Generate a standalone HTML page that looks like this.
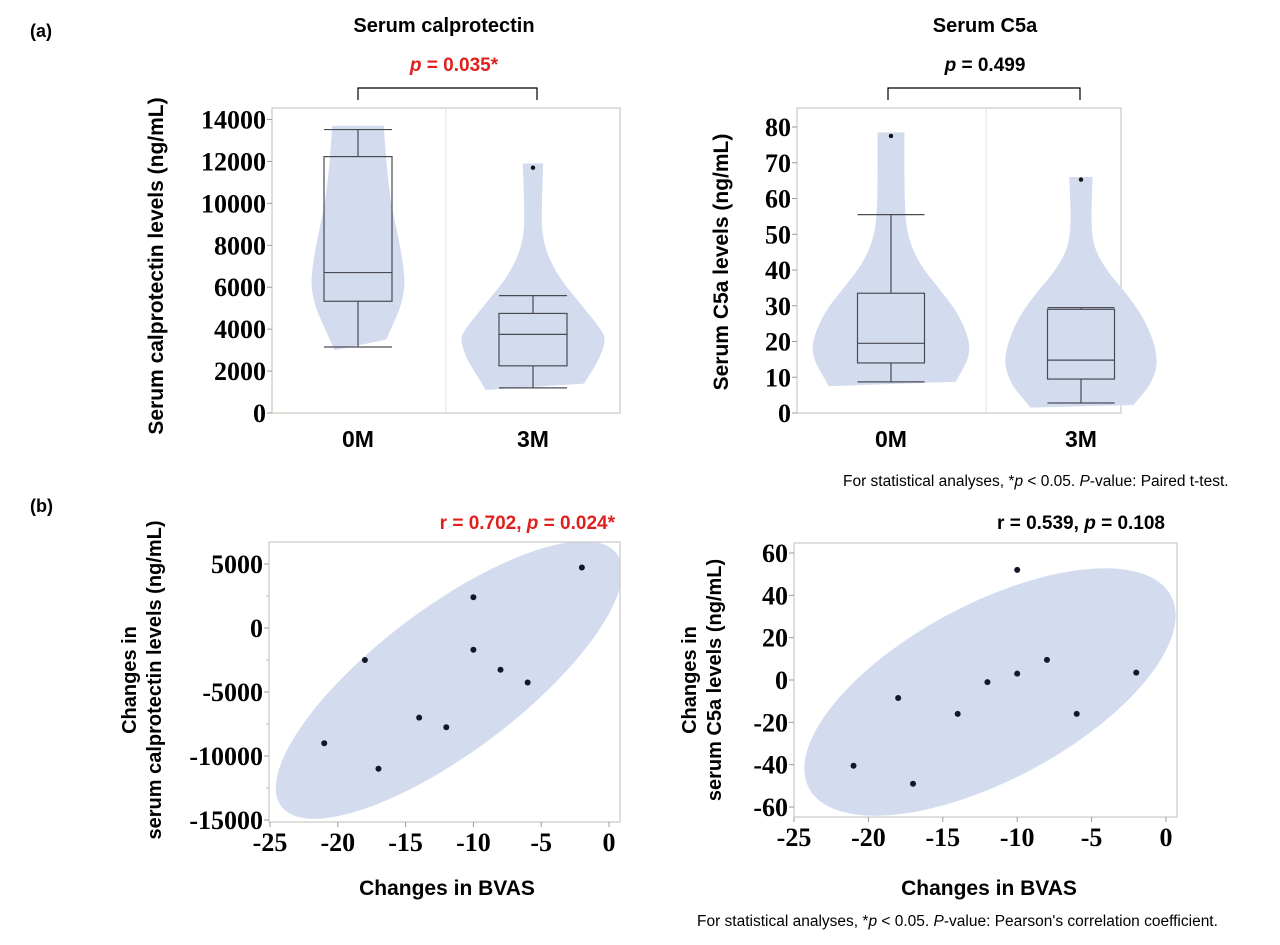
<!DOCTYPE html>
<html><head><meta charset="utf-8"><style>
html,body{margin:0;padding:0;background:#fff;}
svg{display:block;}
.ar{font-family:"Liberation Sans",Arial,sans-serif;font-weight:bold;}
.tm{font-family:"Liberation Serif","Times New Roman",serif;font-weight:bold;font-size:26px;}
</style></head><body>
<svg id="fig" width="1280" height="945" viewBox="0 0 1280 945" xmlns="http://www.w3.org/2000/svg">
<text class="ar" x="30" y="37" font-size="18">(a)</text>
<text class="ar" x="444" y="32" font-size="20" text-anchor="middle">Serum calprotectin</text>
<text class="ar" x="454" y="71" font-size="19" text-anchor="middle" fill="#e0201c"><tspan font-style="italic">p</tspan> = 0.035*</text>
<path d="M358,100 V88 H537 V100" fill="none" stroke="#000" stroke-width="1.2"/>
<text class="ar" x="985" y="32" font-size="20" text-anchor="middle">Serum C5a</text>
<text class="ar" x="985" y="71" font-size="19" text-anchor="middle"><tspan font-style="italic">p</tspan> = 0.499</text>
<path d="M888,100 V88 H1080 V100" fill="none" stroke="#000" stroke-width="1.2"/>
<text class="ar" transform="translate(163,266) rotate(-90)" font-size="21" text-anchor="middle">Serum calprotectin levels (ng/mL)</text>
<text class="ar" transform="translate(728,262) rotate(-90)" font-size="21" text-anchor="middle">Serum C5a levels (ng/mL)</text>
<text font-family="Liberation Sans, Arial, sans-serif" x="843" y="486" font-size="15.5">For statistical analyses, *<tspan font-style="italic">p</tspan> &lt; 0.05. <tspan font-style="italic">P</tspan>-value: Paired t-test.</text>
<text class="ar" x="30" y="512" font-size="18">(b)</text>
<text class="ar" x="615" y="529" font-size="19" text-anchor="end" fill="#e0201c">r = 0.702, <tspan font-style="italic">p</tspan> =  0.024*</text>
<text class="ar" x="1165" y="529" font-size="19" text-anchor="end">r = 0.539, <tspan font-style="italic">p</tspan> =  0.108</text>
<text class="ar" transform="translate(136,680) rotate(-90)" font-size="20" text-anchor="middle">Changes in</text>
<text class="ar" transform="translate(161,680) rotate(-90)" font-size="20" text-anchor="middle">serum calprotectin levels (ng/mL)</text>
<text class="ar" transform="translate(696,680) rotate(-90)" font-size="20" text-anchor="middle">Changes in</text>
<text class="ar" transform="translate(721,680) rotate(-90)" font-size="20" text-anchor="middle">serum C5a levels (ng/mL)</text>
<text class="ar" x="447" y="895" font-size="21" text-anchor="middle">Changes in BVAS</text>
<text class="ar" x="989" y="895" font-size="21" text-anchor="middle">Changes in BVAS</text>
<text font-family="Liberation Sans, Arial, sans-serif" x="697" y="926" font-size="15.5">For statistical analyses, *<tspan font-style="italic">p</tspan> &lt; 0.05. <tspan font-style="italic">P</tspan>-value: Pearson's correlation coefficient.</text>
<defs>
<clipPath id="c1"><rect x="269" y="542" width="351" height="280"/></clipPath>
<clipPath id="c2"><rect x="794" y="543" width="383" height="274"/></clipPath>
</defs>
<g id="layer"></g>
</svg>
<script>
// ---- Data ----
const groups = ["0M", "3M"];
const calBox0 = [3150, 5330, 6700, 12230, 13520];
const calBox3 = [1200, 2250, 3750, 4750, 5600];
const calOutliers0 = [];
const calOutliers3 = [11700];
const calViolinVals0 = [13700, 12000, 10000, 8500, 7000, 6000, 5000, 4000, 3000];
const calViolinDens0 = [0.55, 0.6, 0.7, 0.85, 0.97, 1.0, 0.9, 0.7, 0.5];
const calViolinVals3 = [11900, 10000, 8600, 7500, 6350, 5000, 4000, 3500, 2500, 1700, 1100];
const calViolinDens3 = [0.14, 0.12, 0.12, 0.2, 0.38, 0.7, 0.93, 1.0, 0.9, 0.75, 0.65];
const calTicks = [0, 2000, 4000, 6000, 8000, 10000, 12000, 14000];

const c5aBox0 = [8.7, 14, 19.5, 33.5, 55.5];
const c5aBox3 = [2.8, 9.5, 14.8, 29, 29.5];
const c5aOutliers0 = [77.5];
const c5aOutliers3 = [65.3];
const c5aViolinVals0 = [78.5, 60, 50, 42, 35, 28, 20, 15, 10, 7.5];
const c5aViolinDens0 = [0.17, 0.17, 0.2, 0.35, 0.6, 0.85, 1.0, 0.98, 0.85, 0.79];
const c5aViolinVals3 = [66, 55, 47, 40, 33, 25, 15, 8, 3, 1.5];
const c5aViolinDens3 = [0.15, 0.13, 0.15, 0.32, 0.6, 0.85, 1.0, 0.9, 0.7, 0.65];
const c5aTicks = [0, 10, 20, 30, 40, 50, 60, 70, 80];

const bvas = [-21, -18, -17, -14, -12, -10, -10, -8, -6, -2];
const dCal = [-9000, -2500, -11000, -7000, -7750, 2400, -1700, -3260, -4260, 4730];
const bvas2 = [-21, -18, -17, -14, -12, -10, -10, -8, -6, -2];
const dC5a = [-40.5, -8.5, -49, -16, -1, 52, 3, 9.5, -16, 3.5];
const xTicks = [-25, -20, -15, -10, -5, 0];
const calDTicks = [-15000, -10000, -5000, 0, 5000];
const c5aDTicks = [-60, -40, -20, 0, 20, 40, 60];

const NS = "http://www.w3.org/2000/svg";
const layer = document.getElementById("layer");
function mk(tag, attrs, parent) {
  const e = document.createElementNS(NS, tag);
  for (const k in attrs) e.setAttribute(k, attrs[k]);
  (parent || layer).appendChild(e);
  return e;
}
const lin = (d0, d1, r0, r1) => v => r0 + (v - d0) / (d1 - d0) * (r1 - r0);

function violinPlot(p) {
  const g = mk("g", {});
  
  
  const y = lin(0, p.ymax, 413, p.ytop);
  const fr = mk("rect", {x: p.x0, y: 108, width: p.x1 - p.x0, height: 305, fill: "none", stroke: "#ccc9bd", "stroke-width": 1.2}, g);
  
  
  const dv = mk("line", {x1: p.div, x2: p.div, y1: 108, y2: 413, stroke: "#e2e2e2"}, g);
  
  
  p.ticks.forEach(t => {
    mk("line", {x1: p.x0 - 5, x2: p.x0, y1: y(t), y2: y(t), stroke: "#999"}, g);
    const tx = mk("text", {x: p.x0 - 6, y: y(t) + 9, class: "tm", "text-anchor": "end"}, g);
    tx.textContent = t;
    
    
  });
  p.series.forEach((s, i) => {
    const cx = s.cx;
    let right = [], left = [];
    s.vals.forEach((v, j) => { right.push([cx + s.dens[j] * s.maxw, y(v)]); left.push([cx - s.dens[j] * s.maxw, y(v)]); });
    left.reverse();
    const pts = right.concat(left);
    let d = "M" + pts[0][0] + "," + pts[0][1];
    for (let k = 1; k < pts.length; k++) {
      const a = pts[k - 1], b = pts[k];
      const flat = (k === right.length);
      if (flat) d += " L" + b[0] + "," + b[1];
      else { const mx = (a[0] + b[0]) / 2, my = (a[1] + b[1]) / 2; d += " Q" + a[0] + "," + a[1] + " " + mx + "," + my; }
    }
    d += " L" + pts[pts.length - 1][0] + "," + pts[pts.length - 1][1] + " Z";
    const vp = mk("path", {d: d, fill: "#d3dcee", stroke: "none"}, g);
    
    
    const b = s.box, hw = p.boxw;
    const bx = mk("g", {stroke: "#4a4a55", "stroke-width": 1.2, fill: "none"}, g);
    
    
    mk("rect", {x: cx - hw, y: y(b[3]), width: 2 * hw, height: y(b[1]) - y(b[3])}, bx);
    mk("line", {x1: cx - hw, x2: cx + hw, y1: y(b[2]), y2: y(b[2])}, bx);
    mk("line", {x1: cx, x2: cx, y1: y(b[3]), y2: y(b[4])}, bx);
    mk("line", {x1: cx, x2: cx, y1: y(b[1]), y2: y(b[0])}, bx);
    mk("line", {x1: cx - hw, x2: cx + hw, y1: y(b[4]), y2: y(b[4])}, bx);
    mk("line", {x1: cx - hw, x2: cx + hw, y1: y(b[0]), y2: y(b[0])}, bx);
    s.out.forEach(o => {
      const c = mk("circle", {cx: cx, cy: y(o), r: 2.2, fill: "#111"}, g);
      
      
    });
    const lab = mk("text", {x: cx, y: 447, class: "ar", "font-size": 23, "text-anchor": "middle"}, g);
    lab.textContent = groups[i];
    
    
  });
}

violinPlot({name: "calprotectin-violin-chart", x0: 272, x1: 620, div: 446, ymax: 14000, ytop: 119.5, ticks: calTicks, boxw: 34,
  series: [
    {cx: 358, maxw: 47, vals: calViolinVals0, dens: calViolinDens0, box: calBox0, out: calOutliers0},
    {cx: 533, maxw: 73, vals: calViolinVals3, dens: calViolinDens3, box: calBox3, out: calOutliers3}]});
violinPlot({name: "c5a-violin-chart", x0: 797, x1: 1121, div: 986, ymax: 80, ytop: 127, ticks: c5aTicks, boxw: 33.5,
  series: [
    {cx: 891, maxw: 79, vals: c5aViolinVals0, dens: c5aViolinDens0, box: c5aBox0, out: c5aOutliers0},
    {cx: 1081, maxw: 78, vals: c5aViolinVals3, dens: c5aViolinDens3, box: c5aBox3, out: c5aOutliers3}]});

function scatter(p) {
  const g = mk("g", {});
  
  
  const x = lin(-25, 0, p.xa, p.xb);
  const y = lin(p.yv0, p.yv1, p.ya, p.yb);
  const cg = mk("g", {"clip-path": p.clip}, g);
  const el = mk("ellipse", {cx: p.ecx, cy: p.ecy, rx: p.ea, ry: p.eb, transform: "rotate(" + p.eang + " " + p.ecx + " " + p.ecy + ")", fill: "#d3dcee"}, cg);
  
  
  const fr = mk("rect", {x: p.x0, y: p.y0, width: p.x1 - p.x0, height: p.y1 - p.y0, fill: "none", stroke: "#c9c9c9", "stroke-width": 1.2}, g);
  
  
  p.yticks.forEach((t, k) => {
    mk("line", {x1: p.x0 - 5, x2: p.x0, y1: y(t), y2: y(t), stroke: "#999"}, g);
    if (p.minor && k < p.yticks.length - 1) {
      const step = (p.yticks[1] - p.yticks[0]) / 2;
      mk("line", {x1: p.x0 - 3, x2: p.x0, y1: y(t + step), y2: y(t + step), stroke: "#bbb"}, g);
    }
    const tx = mk("text", {x: p.x0 - 6, y: y(t) + 9, class: "tm", "text-anchor": "end"}, g);
    tx.textContent = t;
    
    
  });
  xTicks.forEach(t => {
    mk("line", {x1: x(t), x2: x(t), y1: p.y1, y2: p.y1 + 5, stroke: "#999"}, g);
    const tx = mk("text", {x: x(t), y: p.y1 + 29, class: "tm", "text-anchor": "middle"}, g);
    tx.textContent = t;
    
    
  });
  p.xs.forEach((v, i) => {
    const c = mk("circle", {cx: x(v), cy: y(p.ys[i]), r: 3, fill: "#111827"}, g);
    
    
  });
}
scatter({name: "calprotectin-scatter", x0: 269, x1: 620, y0: 542, y1: 822, xa: 270, xb: 609, yv0: 0, yv1: 5000, ya: 628, yb: 564,
  yticks: calDTicks, minor: true, xs: bvas, ys: dCal, ecx: 449, ecy: 680, ea: 210, eb: 72, eang: -37, clip: "url(#c1)"});
scatter({name: "c5a-scatter", x0: 794, x1: 1177, y0: 543, y1: 817, xa: 794, xb: 1166, yv0: 0, yv1: 60, ya: 680, yb: 553,
  yticks: c5aDTicks, minor: false, xs: bvas2, ys: dC5a, ecx: 990, ecy: 692, ea: 205, eb: 88, eang: -28, clip: "url(#c2)"});
</script>
</body></html>
